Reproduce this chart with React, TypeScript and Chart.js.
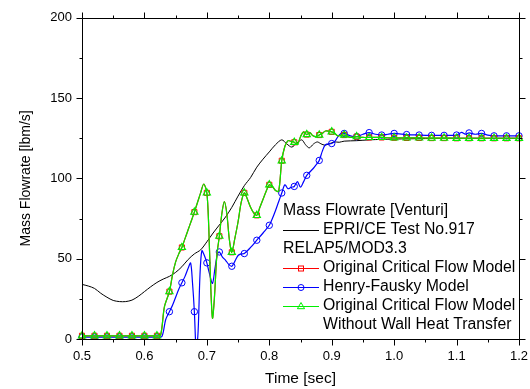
import React, { useEffect, useRef } from 'react';
import { Chart, registerables } from 'chart.js';
Chart.register(...registerables);

// ---- Data ----
const testTimes = [0.50, 0.51, 0.52, 0.53, 0.54, 0.55, 0.56, 0.57, 0.58, 0.59, 0.60, 0.61, 0.62, 0.63, 0.64, 0.65, 0.66, 0.67, 0.68, 0.69, 0.70, 0.71, 0.72, 0.73, 0.74, 0.75, 0.76, 0.765, 0.77, 0.78, 0.79, 0.80, 0.81, 0.82, 0.828, 0.836, 0.844, 0.852, 0.858, 0.864, 0.871, 0.877, 0.883, 0.889, 0.896, 0.904, 0.912, 0.92, 0.94, 0.96, 0.98, 1.0, 1.05, 1.1, 1.15, 1.2];
const testFlow = [34, 33, 31.5, 28.5, 26, 24, 23.3, 23.3, 24.2, 26.5, 29.5, 32.5, 35.2, 37.3, 39, 41.5, 45, 49.5, 53, 55.5, 60.5, 66, 71, 76, 82, 89, 95.5, 98, 100.5, 107, 112, 116.5, 121, 124, 121.5, 119.5, 122, 124, 121, 119, 121.5, 122.7, 121.5, 120.7, 121.5, 122.7, 122.5, 123.2, 123.5, 124, 124.3, 124.5, 124.8, 125, 125, 125];

const origTimes = [0.50, 0.52, 0.54, 0.56, 0.58, 0.60, 0.62, 0.626, 0.632, 0.64, 0.645, 0.65, 0.655, 0.66, 0.665, 0.67, 0.675, 0.68, 0.685, 0.69, 0.695, 0.70, 0.703, 0.706, 0.709, 0.712, 0.716, 0.72, 0.724, 0.728, 0.732, 0.736, 0.74, 0.745, 0.75, 0.755, 0.76, 0.765, 0.77, 0.775, 0.78, 0.785, 0.79, 0.795, 0.80, 0.805, 0.81, 0.815, 0.82, 0.825, 0.83, 0.835, 0.84, 0.845, 0.85, 0.855, 0.86, 0.865, 0.87, 0.875, 0.88, 0.885, 0.89, 0.90, 0.905, 0.91, 0.92, 0.93, 0.94, 0.95, 0.96, 0.97, 0.98, 0.99, 1.00, 1.02, 1.04, 1.06, 1.08, 1.10, 1.12, 1.14, 1.16, 1.18, 1.20];
const origFlow = [2, 2, 2, 2, 2, 2, 2, 2.5, 20, 29.5, 40, 48, 53, 57, 62.5, 68, 73.5, 79, 85, 91, 96.5, 91, 70, 35, 13, 25, 52, 64, 78, 85.5, 78, 62, 54, 63, 73, 85, 91, 87, 82, 78.5, 77, 82, 87, 92, 96, 95, 92.5, 92, 111, 120, 123.5, 123, 122.5, 121, 126, 129, 127.3, 128.5, 126.5, 126, 127, 128, 129.5, 129, 128, 126.5, 127, 125.5, 126, 125.5, 125.5, 125.5, 125.5, 125.3, 125.3, 125.2, 125.2, 125.1, 125.1, 125, 125, 125, 125, 125, 125];
const noWallFlow = [2, 2, 2, 2, 2, 2, 2, 2.5, 20, 29.5, 40, 48, 53, 57, 62.5, 68, 73.5, 79, 85, 91, 96.5, 91, 70, 35, 13, 25, 52, 64, 78, 85.5, 78, 62, 54, 63, 73, 85, 91, 87, 82, 78.5, 77, 82, 87, 92, 96, 95, 92.5, 92, 111, 120, 123.5, 123, 122.5, 121, 126, 129, 127.3, 128.5, 126.5, 126, 127, 128, 129.5, 129, 128, 126.5, 127, 125.5, 126, 125.5, 125.5, 125.5, 125.5, 125.3, 125.3, 125.2, 125.2, 125.1, 125.1, 125, 125, 125, 125, 125, 125];

const henryTimes = [0.50, 0.52, 0.54, 0.56, 0.58, 0.60, 0.62, 0.628, 0.634, 0.64, 0.645, 0.65, 0.655, 0.66, 0.665, 0.67, 0.674, 0.677, 0.68, 0.683, 0.686, 0.689, 0.692, 0.696, 0.70, 0.704, 0.709, 0.713, 0.717, 0.72, 0.725, 0.73, 0.735, 0.74, 0.745, 0.75, 0.755, 0.76, 0.77, 0.78, 0.79, 0.80, 0.805, 0.81, 0.815, 0.82, 0.825, 0.83, 0.835, 0.84, 0.845, 0.85, 0.855, 0.86, 0.865, 0.87, 0.875, 0.88, 0.885, 0.89, 0.90, 0.905, 0.91, 0.915, 0.92, 0.93, 0.94, 0.95, 0.96, 0.97, 0.98, 0.99, 1.00, 1.02, 1.04, 1.06, 1.08, 1.10, 1.108, 1.114, 1.12, 1.13, 1.14, 1.15, 1.16, 1.18, 1.20];
const henryFlow = [1.2, 1.2, 1.2, 1.2, 1.2, 1.2, 1.2, 1.5, 12, 17, 21, 26, 31, 35, 39, 44, 47.4, 35, 17, -8, 5, 40, 55, 52, 47.4, 41, 34.6, 44, 53, 54.2, 51, 49, 46.5, 45.3, 48.5, 52, 53, 53.2, 57, 61.5, 66, 70.8, 75, 80, 85.5, 90.9, 96, 93.6, 94.5, 95, 98, 94.5, 98, 101.9, 104, 106, 108.5, 111.2, 117, 121, 121.7, 123, 126, 128, 128, 126.5, 126, 127.5, 128.5, 127.5, 127, 127.5, 128, 127.3, 127, 126.8, 126.8, 127, 128.6, 127.5, 128.3, 127.5, 128, 127, 126.5, 126.5, 126.5];

const xMajorTicks = [0.5, 0.6, 0.7, 0.8, 0.9, 1.0, 1.1, 1.2];
const xMinorTicks = [0.55, 0.65, 0.75, 0.85, 0.95, 1.05, 1.15];
const yMajorTicks = [0, 50, 100, 150, 200];
const yMinorTicks = [25, 75, 125, 175];

const legendTitle = 'Mass Flowrate [Venturi]';
const testLabel = 'EPRI/CE Test No.917';
const codeLabel = 'RELAP5/MOD3.3';
const origLabel = 'Original Critical Flow Model';
const henryLabel = 'Henry-Fausky Model';
const noWallLabel = ['Original Critical Flow Model', 'Without Wall Heat Transfer'];

const FONT = '"Liberation Sans", Arial, sans-serif';
const RED = '#ff0000';
const BLUE = '#0000ff';
const GREEN = '#00ee00';

const toPts = (t: number[], v: number[]) => t.map((x, i) => ({ x, y: v[i] }));
const isMarker = (x: number) => Math.abs(x * 50 - Math.round(x * 50)) < 1e-6;
const markerRadius = (r: number) => (c: any) => (c.raw && isMarker(c.raw.x) ? r : 0);

const framePlugin = {
  id: 'framePlugin',
  afterDatasetsDraw(chart: any) {
    const { ctx, chartArea: a, scales } = chart;
    const xs = scales.x, ys = scales.y;
    ctx.save();
    ctx.strokeStyle = '#000';
    ctx.lineWidth = 1;
    const L = Math.round(a.left) + 0.5, R = Math.round(a.right) + 0.5;
    const T = Math.round(a.top) + 0.5, B = Math.round(a.bottom) + 0.5;
    ctx.beginPath();
    ctx.rect(L, T, R - L, B - T);
    const xt = (v: number, len: number) => {
      const p = Math.round(xs.getPixelForValue(v)) + 0.5;
      ctx.moveTo(p, B); ctx.lineTo(p, B + len);
      ctx.moveTo(p, T); ctx.lineTo(p, T - len);
    };
    const yt = (v: number, len: number) => {
      const p = Math.round(ys.getPixelForValue(v)) + 0.5;
      ctx.moveTo(L, p); ctx.lineTo(L - len, p);
      ctx.moveTo(R, p); ctx.lineTo(R + len, p);
    };
    xMajorTicks.forEach(v => xt(v, 6));
    xMinorTicks.forEach(v => xt(v, 3));
    yMajorTicks.forEach(v => yt(v, 6));
    yMinorTicks.forEach(v => yt(v, 3));
    ctx.stroke();
    ctx.restore();
  },
  afterDraw(chart: any) {
    const { ctx } = chart;
    ctx.save();
    ctx.font = `15.8px ${FONT}`;
    ctx.fillStyle = '#000';
    ctx.textBaseline = 'middle';
    ctx.textAlign = 'left';
    const x0 = 283, x1 = 319, xm = 301, tx = 323;
    const rows = [211, 229.5, 248.5, 268, 287, 306, 325];
    ctx.fillText(legendTitle, x0, rows[0]);
    ctx.fillText(codeLabel, x0, rows[2]);
    const line = (y: number, color: string) => {
      ctx.strokeStyle = color;
      ctx.lineWidth = 1;
      ctx.beginPath();
      ctx.moveTo(x0, Math.round(y) + 0.5);
      ctx.lineTo(x1, Math.round(y) + 0.5);
      ctx.stroke();
    };
    line(rows[1], '#000');
    ctx.fillText(testLabel, tx, rows[1]);
    line(rows[3], RED);
    ctx.strokeStyle = RED;
    ctx.strokeRect(xm - 2.5, Math.round(rows[3]) - 2, 5, 5);
    ctx.fillText(origLabel, tx, rows[3]);
    line(rows[4], BLUE);
    ctx.strokeStyle = BLUE;
    ctx.beginPath();
    ctx.arc(xm, Math.round(rows[4]) + 0.5, 3, 0, Math.PI * 2);
    ctx.stroke();
    ctx.fillText(henryLabel, tx, rows[4]);
    line(rows[5], GREEN);
    ctx.strokeStyle = GREEN;
    ctx.beginPath();
    const cy = Math.round(rows[5]) + 0.5;
    ctx.moveTo(xm, cy - 4);
    ctx.lineTo(xm + 3.6, cy + 2.2);
    ctx.lineTo(xm - 3.6, cy + 2.2);
    ctx.closePath();
    ctx.stroke();
    ctx.fillText(noWallLabel[0], tx, rows[5]);
    ctx.fillText(noWallLabel[1], tx, rows[6]);
    ctx.restore();
  },
};

export default function App() {
  const ref = useRef<HTMLCanvasElement>(null);
  useEffect(() => {
    document.body.style.margin = '0';
    const canvas = ref.current!;
    const chart = new Chart(canvas, {
      type: 'line',
      data: {
        datasets: [
          {
            label: noWallLabel.join(' '),
            data: toPts(origTimes, noWallFlow),
            borderColor: GREEN,
            backgroundColor: 'transparent',
            borderWidth: 1.2,
            pointStyle: 'triangle',
            pointRadius: markerRadius(4.2),
            pointBorderColor: GREEN,
            pointBackgroundColor: 'transparent',
            pointBorderWidth: 1.1,
            tension: 0.3,
            order: 0,
            clip: false as any,
          },
          {
            label: origLabel,
            data: toPts(origTimes, origFlow),
            borderColor: RED,
            backgroundColor: 'transparent',
            borderWidth: 1.2,
            pointStyle: 'rect',
            pointRadius: markerRadius(3.6),
            pointBorderColor: RED,
            pointBackgroundColor: 'transparent',
            pointBorderWidth: 1,
            tension: 0.3,
            order: 1,
            clip: false as any,
          },
          {
            label: henryLabel,
            data: toPts(henryTimes, henryFlow),
            borderColor: BLUE,
            backgroundColor: 'transparent',
            borderWidth: 1.2,
            pointStyle: 'circle',
            pointRadius: markerRadius(3.2),
            pointBorderColor: BLUE,
            pointBackgroundColor: 'transparent',
            pointBorderWidth: 1,
            tension: 0.3,
            order: 2,
            clip: { left: 5, right: 5, top: 5, bottom: 1 } as any,
          },
          {
            label: testLabel,
            data: toPts(testTimes, testFlow),
            borderColor: '#000',
            backgroundColor: 'transparent',
            borderWidth: 1,
            pointRadius: 0,
            tension: 0.3,
            order: 3,
          },
        ],
      },
      options: {
        animation: false,
        responsive: true,
        maintainAspectRatio: false,
        events: [],
        layout: { padding: { top: 17, right: 11, left: 0, bottom: 0 } },
        plugins: { legend: { display: false }, tooltip: { enabled: false } },
        scales: {
          x: {
            type: 'linear',
            min: 0.5,
            max: 1.2,
            afterFit: (s: any) => { s.height = 50; s.paddingLeft = 10; s.paddingRight = 10; },
            grid: { display: false, drawTicks: false },
            border: { display: false },
            ticks: {
              stepSize: 0.1,
              padding: 10,
              color: '#000',
              font: { family: FONT, size: 13 },
              maxRotation: 0,
              callback: (v: any) => Number(v).toFixed(1),
            },
            title: {
              display: true,
              text: 'Time [sec]',
              color: '#000',
              font: { family: FONT, size: 15.5 },
              padding: { top: 0, bottom: 1 },
            },
          },
          y: {
            type: 'linear',
            min: 0,
            max: 200,
            afterFit: (s: any) => { s.width = 82; },
            grid: { display: false, drawTicks: false },
            border: { display: false },
            ticks: {
              stepSize: 50,
              padding: 10,
              color: '#000',
              font: { family: FONT, size: 13 },
            },
            title: {
              display: true,
              text: 'Mass Flowrate [lbm/s]',
              color: '#000',
              font: { family: FONT, size: 14 },
              padding: { top: 18, bottom: 0 },
            },
          },
        },
      },
      plugins: [framePlugin],
    });
    return () => chart.destroy();
  }, []);
  return (
    <div style={{ position: 'relative', width: 530, height: 389 }}>
      <canvas ref={ref} />
    </div>
  );
}
